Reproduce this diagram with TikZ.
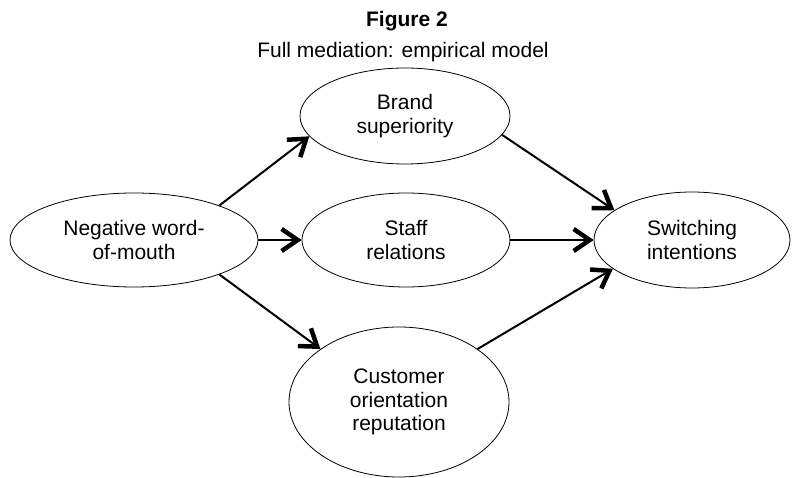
\documentclass[tikz,border=0pt]{standalone}
\usepackage{fontspec}
\setmainfont{Liberation Sans}
\usepackage{tikz}
\usetikzlibrary{shapes.geometric,arrows.meta,positioning}

\tikzset{
    construct/.style={ellipse, draw, line width=0.8pt, inner sep=0pt, align=center,
        font=\fontsize{21}{23.5}\selectfont},
    link/.style={line width=2pt, -{Straight Barb[length=16pt,width=22pt,line width=4.5pt]}},
    caption/.style={anchor=base, font=\fontsize{21}{23.5}\selectfont}
}

\begin{document}
\begin{tikzpicture}[x=1pt, y=-1pt]
    \useasboundingbox (0,0) rectangle (792,478);

    % Title
    \node [caption, font=\fontsize{21}{23.5}\selectfont\bfseries] (title) at (407, 27) {Figure 2};
    \node [caption] (subtitle) at (403, 58) {Full mediation: empirical model};

    % Constructs
    \node [construct, minimum width=248pt, minimum height=94pt] (nwom) at (134, 240) {Negative word-\\of-mouth};
    \node [construct, minimum width=210pt, minimum height=96pt] (brand) at (405, 116) {Brand\\superiority};
    \node [construct, minimum width=208pt, minimum height=94pt] (staff) at (406, 240) {Staff\\relations};
    \node [construct, minimum width=220pt, minimum height=150pt] (cust) at (399, 402) {Customer\\orientation\\reputation};
    \node [construct, minimum width=196pt, minimum height=96pt] (switch) at (692, 240) {Switching\\intentions};

    % Paths
    \draw [link] (nwom.22) -- (brand.192);
    \draw [link] (nwom.east) -- (staff.west);
    \draw [link] (nwom.-22) -- (cust.146);
    \draw [link] (brand.-11) -- (switch.159);
    \draw [link] (staff.east) -- (switch.west);
    \draw [link] (cust.34) -- (switch.200);
\end{tikzpicture}
\end{document}
